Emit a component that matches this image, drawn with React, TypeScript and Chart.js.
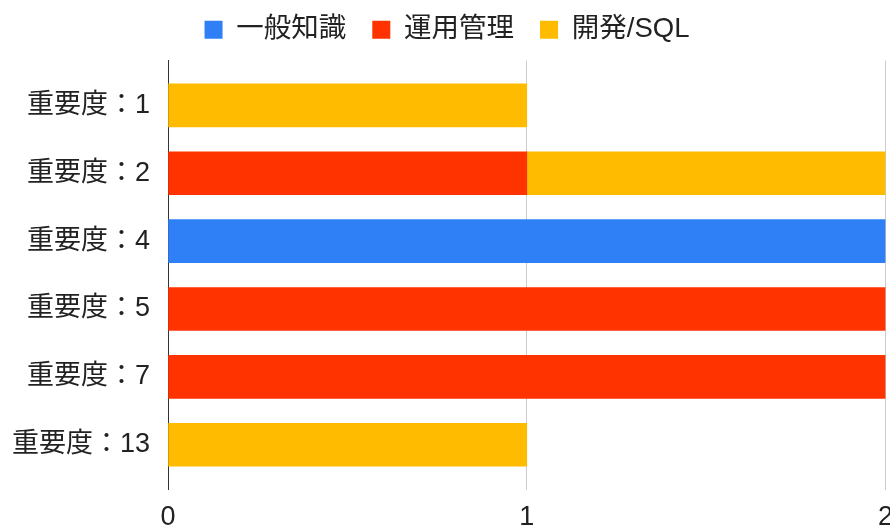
import React, { useEffect, useRef } from "react";
import { Chart, registerables } from "chart.js";

Chart.register(...registerables);

const categories = ["重要度：1", "重要度：2", "重要度：4", "重要度：5", "重要度：7", "重要度：13"];
const seriesNames = ["一般知識", "運用管理", "開発/SQL"];
const generalKnowledge = [0, 0, 2, 0, 0, 0];
const operations = [0, 1, 0, 2, 2, 0];
const devSql = [1, 1, 0, 0, 0, 1];
const seriesColors = ["#2F80F7", "#FF3300", "#FFBB00"];
const xTicks = [0, 1, 2];

const FONT = "'Liberation Sans', 'Noto Sans CJK JP', sans-serif";

function toPoints(values: number[]) {
  return values
    .map((v, i) => ({ x: v, y: i }))
    .filter((p) => p.x !== 0);
}

const legendMargin = {
  id: "legendMargin",
  beforeInit(chart: any) {
    const legend = chart.legend;
    if (!legend) return;
    const fit = legend.fit;
    legend.fit = function () {
      fit.bind(legend)();
      this.height += 7;
    };
  },
  afterLayout(chart: any) {
    const legend = chart.legend;
    if (!legend) return;
    legend.left += 5;
    legend.right += 5;
  },
};

export default function App() {
  const ref = useRef<HTMLCanvasElement | null>(null);
  useEffect(() => {
    if (!ref.current) return;
    const all = [generalKnowledge, operations, devSql];
    const chart = new Chart(ref.current, {
      type: "bar",
      data: {
        datasets: all.map((vals, k) => ({
          label: seriesNames[k],
          data: toPoints(vals),
          backgroundColor: seriesColors[k],
          borderWidth: 0,
          barThickness: 43,
        })),
      },
      plugins: [legendMargin],
      options: {
        indexAxis: "y",
        responsive: false,
        animation: false,
        layout: { padding: { top: -10, right: 15, left: -6, bottom: -17 } },
        plugins: {
          tooltip: { enabled: false },
          legend: {
            position: "top",
            labels: {
              boxWidth: 18,
              boxHeight: 18,
              padding: 26,
              color: "#222",
              font: { family: FONT, size: 27.5 },
            },
          },
        },
        scales: {
          x: {
            type: "linear",
            stacked: true,
            min: 0,
            max: 2,
            afterBuildTicks: (s: any) => {
              s.ticks = xTicks.map((v) => ({ value: v }));
            },
            grid: { color: "#cccccc", drawTicks: false, lineWidth: 1 },
            border: { display: false },
            ticks: {
              padding: 12,
              color: "#222",
              font: { family: FONT, size: 27 },
              maxRotation: 0,
            },
          },
          y: {
            type: "linear",
            reverse: true,
            stacked: true,
            offset: false,
            min: -0.66,
            max: categories.length - 1 + 0.66,
            afterBuildTicks: (s: any) => {
              s.ticks = categories.map((_, i) => ({ value: i }));
            },
            grid: { display: false, drawTicks: false, offset: false },
            border: { display: true, color: "#333333", width: 1 },
            ticks: {
              padding: 18,
              color: "#222",
              font: { family: FONT, size: 27 },
              callback: (v: any) => categories[Number(v)] ?? "",
            },
          },
        },
      },
    });
    return () => chart.destroy();
  }, []);
  return (
    <div style={{ position: "absolute", left: 0, top: 0, width: 890, height: 529, overflow: "hidden", background: "#fff" }}>
      <canvas ref={ref} width={905} height={529} style={{ width: 905, height: 529, display: "block" }} />
    </div>
  );
}
